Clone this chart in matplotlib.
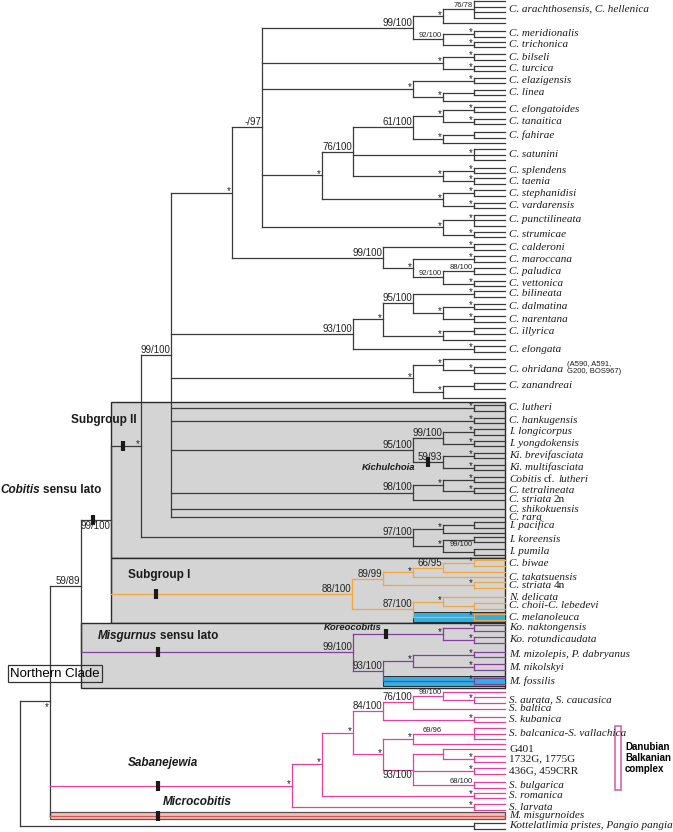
import matplotlib
matplotlib.use('Agg')
import matplotlib.pyplot as plt
from matplotlib.patches import Rectangle

plt.rcParams['font.family'] = ['Liberation Sans', 'DejaVu Sans']

TIP_X = 505     # right end of the terminal branches
FORK_X = 474    # depth of the small terminal forks
LABEL_X = 509
TIP_GAP = 5.5   # spacing of the tips inside a terminal fork

# internal nodes: (name, parent, depth, support)
base_nodes = [
    ('root', None, 20, ''),
    ('nc', 'root', 50, '*'),
    ('n5989', 'nc', 81, '59/89'),
    ('cobitis', 'n5989', 111, '99/100'),
    ('sub2', 'cobitis', 141, '*'),
]
europe_nodes = [
    ('B', 'sub2', 171, '99/100'), ('D', 'B', 232, '*'), ('E', 'D', 262, '-/97'),
    ('F', 'E', 413, '99/100'), ('G', 'F', 443, '*'), ('H', 'F', 443, '92/100'),
    ('bt', 'E', 443, '*'), ('el', 'E', 413, '*'), ('li', 'el', 443, '*'),
    ('I', 'E', 322, '*'), ('J', 'I', 353, '76/100'), ('K', 'J', 413, '61/100'),
    ('et', 'K', 443, '*'), ('fa', 'K', 443, '*'), ('st', 'J', 443, '*'),
    ('sv', 'I', 443, '*'), ('ps', 'E', 443, '*'),
    ('L', 'D', 383, '99/100'), ('M', 'L', 413, '*'), ('N', 'M', 443, '92/100'),
    ('O', 'B', 353, '93/100'), ('P', 'O', 383, '*'), ('Q', 'P', 413, '95/100'),
    ('dn', 'Q', 443, '*'), ('il', 'P', 443, '*'),
    ('R', 'B', 413, '*'), ('oh', 'R', 443, '*'), ('za', 'R', 443, '*'),
]
asia_nodes = [
    ('S', 'B', 413, '95/100'), ('T', 'S', 443, '99/100'), ('U', 'S', 443, '59/93'),
    ('V', 'B', 413, '98/100'), ('W', 'V', 443, '*'),
    ('X', 'sub2', 413, '97/100'), ('Y', 'X', 443, '*'), ('Z', 'X', 443, '*'),
]
sub1_nodes = [
    ('sub1', 'cobitis', 352, '88/100'), ('AA', 'sub1', 383, '89/99'),
    ('AC', 'AA', 413, '*'), ('n6695', 'AC', 443, '66/95'),
    ('AB', 'sub1', 413, '87/100'), ('AD', 'AB', 443, '*'),
]
misg_nodes = [
    ('misg', 'n5989', 353, '99/100'), ('kor', 'misg', 443, '*'),
    ('m93', 'misg', 383, '93/100'), ('mn', 'm93', 413, '*'),
]
saban_nodes = [
    ('sab', 'nc', 292, '*'), ('s2', 'sab', 322, '*'), ('s3', 's2', 353, '*'),
    ('s84', 's3', 383, '84/100'), ('s76', 's84', 413, '76/100'), ('s99', 's76', 443, '99/100'),
    ('s4', 's3', 383, '*'), ('s5', 's4', 413, '*'), ('s6996', 's5', 443, '69/96'),
    ('s93', 's4', 413, '93/100'), ('sg', 's93', 443, ''),
]

# terminal taxa: (label, parent, y, number of tips, support); '|' splits italic / roman parts
europe_taxa = [
    ('C. arachthosensis, C. hellenica', 'G', 9.25, 4, '76/78'), ('', 'G', 23, 1, ''),
    ('C. meridionalis', 'H', 34, 2, '*'), ('C. trichonica', 'H', 44.5, 2, '*'),
    ('C. bilseli', 'bt', 57, 2, '*'), ('C. turcica', 'bt', 68.5, 2, '*'),
    ('C. elazigensis', 'el', 80.5, 2, '*'), ('C. linea', 'li', 92.5, 2, ''), ('', 'li', 101, 1, ''),
    ('C. elongatoides', 'et', 109.5, 2, '*'), ('C. tanaitica', 'et', 121.5, 2, '*'),
    ('C. fahirae', 'fa', 135, 2, ''), ('', 'fa', 143, 1, ''),
    ('C. satunini', 'J', 154.5, 3, '*'),
    ('C. splendens', 'st', 170.5, 2, '*'), ('C. taenia', 'st', 181, 2, '*'),
    ('C. stephanidisi', 'sv', 193, 2, '*'), ('C. vardarensis', 'sv', 205.5, 2, '*'),
    ('C. punctilineata', 'ps', 220, 3, '*'), ('C. strumicae', 'ps', 234.5, 2, '*'),
    ('C. calderoni', 'L', 247, 2, '*'), ('C. maroccana', 'M', 259, 2, '*'),
    ('C. paludica', 'N', 271, 2, '88/100'), ('C. vettonica', 'N', 283.5, 2, '*'),
    ('C. bilineata', 'Q', 294, 2, '*'),
    ('C. dalmatina', 'dn', 306.5, 2, '*'), ('C. narentana', 'dn', 319, 2, '*'),
    ('C. illyrica', 'il', 331, 2, ''), ('', 'il', 340, 1, ''),
    ('C. elongata', 'O', 349, 2, '*'),
    ('', 'oh', 359, 1, ''), ('C. ohridana', 'oh', 370, 2, '*'),
    ('C. zanandreai', 'za', 386, 2, ''), ('', 'za', 398, 1, ''),
]
asia_taxa = [
    ('C. lutheri', 'B', 408, 2, '*'), ('C. hankugensis', 'B', 420.5, 2, '*'),
    ('I. longicorpus', 'T', 432, 2, '*'), ('I. yongdokensis', 'T', 443.5, 2, '*'),
    ('Ki. brevifasciata', 'U', 455.5, 2, '*'), ('Ki. multifasciata', 'U', 467.5, 2, '*'),
    ('Cobitis|cf.|lutheri', 'W', 479.5, 2, '*'), ('C. tetralineata', 'W', 490.5, 2, '*'),
    ('C. striata|2n', 'V', 500, 1, ''),
    ('C. shikokuensis', 'B', 509, 1, ''), ('C. rara', 'B', 517, 1, ''),
    ('I. pacifica', 'Y', 525, 2, ''), ('', 'Y', 533, 1, ''),
    ('I. koreensis', 'Z', 539.5, 2, '99/100'), ('I. pumila', 'Z', 552, 2, ''),
]
sub1_taxa = [
    ('C. biwae', 'n6695', 563, 2, '*'), ('', 'n6695', 572, 1, ''),
    ('C. takatsuensis', 'AC', 577, 1, ''),
    ('C. striata|4n', 'AA', 585, 2, '*'),
    ('N. delicata', 'AD', 597, 1, ''), ('C. choii-C. lebedevi', 'AD', 606, 2, ''),
    ('C. melanoleuca', 'AB', 617, 2, '*'),
]
misg_taxa = [
    ('Ko. naktongensis', 'kor', 628, 2, '*'), ('Ko. rotundicaudata', 'kor', 640, 2, '*'),
    ('M. mizolepis, P. dabryanus', 'mn', 654.5, 2, '*'), ('M. nikolskyi', 'mn', 667, 2, '*'),
    ('M. fossilis', 'm93', 681, 2, '*'),
]
saban_taxa = [
    ('', 's99', 692, 1, ''), ('S. aurata, S. caucasica', 's99', 700, 2, '*'),
    ('S. baltica', 's76', 708.5, 1, ''), ('S. kubanica', 's84', 719.5, 2, '*'),
    ('S. balcanica-S. vallachica', 's6996', 733.5, 3, ''), ('', 's5', 744, 1, ''),
    ('|G401', 'sg', 749, 1, ''), ('|1732G, 1775G', 'sg', 759, 2, '*'),
    ('|436G, 459CRR', 's93', 771, 2, '*'), ('S. bulgarica', 's93', 785, 2, '68/100'),
    ('S. romanica', 's2', 795.5, 2, '*'), ('S. larvata', 'sab', 807, 2, '*'),
]
outer_taxa = [
    ('M. misgurnoides', 'nc', 815.5, 1, ''),
    ('Kottelatlimia pristes, Pangio pangia', 'root', 826, 2, ''),
]

ohridana_note = '(A590, A591,\nG200, BOS967)'
small_support = ['76/78', 'H', 'N', 'C. paludica', 'I. koreensis', 's99', 's6996', 'S. bulgarica']
support_below = ['nc', 'cobitis', 's93', 'I. koreensis']
clade_colors = {'sub1': '#f0a742', 'misg': '#83409b', 'sab': '#e4419b'}
blue_bands = ['C. melanoleuca', 'M. fossilis']
# shaded boxes: first taxon, last taxon, node whose depth gives the left edge
gray_boxes = [('C. lutheri', 'I. pumila', 'cobitis'),
              ('C. biwae', 'C. melanoleuca', 'cobitis'),
              ('Ko. naktongensis', 'M. fossilis', 'n5989')]
# clade bars: node, depth on its stem
clade_bars = [('cobitis', 93), ('sub2', 123), ('sub1', 156), ('misg', 158),
              ('sab', 158), ('U', 428), ('kor', 386), ('M. misgurnoides', 158)]
group_labels = [
    ([('Subgroup II', 'b')], 137, 420, 'right', 8.5),
    ([('Cobitis', 'bi'), ('sensu lato', 'b')], 0, 490, 'left', 8.5),
    ([('Subgroup I', 'b')], 128, 575, 'left', 8.5),
    ([('Misgurnus', 'bi'), ('sensu lato', 'b')], 98, 636, 'left', 8.5),
    ([('Sabanejewia', 'bi')], 128, 763, 'left', 8.5),
    ([('Microcobitis', 'bi')], 163, 802, 'left', 8.5),
    ([('Kichulchoia', 'bi')], 415, 467, 'right', 6.8),
    ([('Koreocobitis', 'bi')], 382, 628, 'right', 6.8),
]

GRAY = '#3a3a3a'
LW = 0.9

fig = plt.figure(figsize=(6.73, 8.32), dpi=100)
ax = fig.add_axes([0, 0, 1, 1])
ax.set_xlim(0, 673)
ax.set_ylim(832, 0)
ax.axis('off')
renderer = fig.canvas.get_renderer()

# build the tree
nodes = {}
for group in (base_nodes, europe_nodes, asia_nodes, sub1_nodes, misg_nodes, saban_nodes):
    for name, parent, x, sup in group:
        nodes[name] = dict(x=x, parent=parent, sup=sup, kids=[], y=None, tips=[], label=None)
taxa = europe_taxa + asia_taxa + sub1_taxa + misg_taxa + saban_taxa + outer_taxa
for i, (label, parent, y, n, sup) in enumerate(taxa):
    key = label if label else 'tip%d' % i
    tips = [y + TIP_GAP * (k - (n - 1) / 2) for k in range(n)]
    nodes[key] = dict(x=FORK_X if n > 1 else TIP_X, parent=parent, sup=sup, kids=[],
                      y=y, tips=tips, label=label)
for key, nd in nodes.items():
    if nd['parent']:
        nodes[nd['parent']]['kids'].append(key)


def place(key):
    nd = nodes[key]
    if nd['y'] is None:
        ys = [place(k) for k in nd['kids']]
        nd['y'] = (min(ys) + max(ys)) / 2
    return nd['y']


place('root')


def color_of(key):
    while key:
        if key in clade_colors:
            return clade_colors[key]
        key = nodes[key]['parent']
    return GRAY


def tip_range(key):
    nd = nodes[key]
    if nd['tips']:
        return min(nd['tips']), max(nd['tips'])
    rs = [tip_range(k) for k in nd['kids']]
    return min(r[0] for r in rs), max(r[1] for r in rs)


# shaded boxes, neighbouring boxes share their edge
spans = [(tip_range(first), tip_range(last), nodes[left]['x']) for first, last, left in gray_boxes]
for i, (r1, r2, left) in enumerate(spans):
    top = r1[0] - 3.5 if i == 0 else (spans[i - 1][1][1] + r1[0]) / 2
    bottom = r2[1] + 4 if i == len(spans) - 1 else (r2[1] + spans[i + 1][0][0]) / 2
    ax.add_patch(Rectangle((left, top), TIP_X - left, bottom - top, fc='#d4d4d4',
                           ec='#2a2a2a', lw=1.0, zorder=0.5))

# blue highlight bands
for name in blue_bands:
    nd = nodes[name]
    px = nodes[nd['parent']]['x']
    ax.add_patch(Rectangle((px, nd['y'] - 5), TIP_X - px, 10, fc='#2eb0e4',
                           ec='#2a2a2a', lw=0.7, zorder=1))

# branches
for key, nd in nodes.items():
    c = color_of(key)
    if key == 'M. misgurnoides':
        px = nodes[nd['parent']]['x']
        ax.add_patch(Rectangle((px, nd['y'] - 3.5), TIP_X - px, 7, fc='#efc2ba',
                               ec='#555555', lw=0.9, zorder=1))
        ax.plot([px, TIP_X], [nd['y'], nd['y']], color='#d9534f', lw=0.9, zorder=2)
        continue
    if nd['parent']:
        px = nodes[nd['parent']]['x']
        ax.plot([px, nd['x']], [nd['y'], nd['y']], color=c, lw=LW, zorder=2)
    if nd['kids']:
        ys = [nodes[k]['y'] for k in nd['kids']]
        ax.plot([nd['x'], nd['x']], [min(ys), max(ys)], color=c, lw=LW, zorder=2)
    if len(nd['tips']) > 1:
        ax.plot([FORK_X, FORK_X], [min(nd['tips']), max(nd['tips'])], color=c, lw=LW, zorder=2)
        for t in nd['tips']:
            ax.plot([FORK_X, TIP_X], [t, t], color=c, lw=LW, zorder=2)

# support values
for key, nd in nodes.items():
    s = nd['sup']
    if not s:
        continue
    below = key in support_below
    fs = 5.5 if (key in small_support or s in small_support) else 7
    x, y = nd['x'] - 1, nd['y']
    if s == '*':
        if below:
            ax.text(x, y + 1, s, ha='right', va='top', fontsize=7, color='#222222', zorder=3)
        else:
            ax.text(x, y + 1.5, s, ha='right', va='baseline', fontsize=7, color='#222222', zorder=3)
    elif below:
        ax.text(x, y + 1, s, ha='right', va='top', fontsize=fs, color='#222222', zorder=3)
    else:
        ax.text(x, y - 2, s, ha='right', va='baseline', fontsize=fs, color='#222222', zorder=3)


def font_kw(style, size):
    if style == 'i':
        return dict(family='Liberation Serif', style='italic', fontsize=size)
    if style == 'r':
        return dict(family='Liberation Serif', fontsize=size)
    if style == 'b':
        return dict(fontweight='bold', fontsize=size)
    if style == 'bi':
        return dict(fontweight='bold', style='italic', fontsize=size)
    return dict(fontsize=size)


def draw_parts(x, y, parts, ha='left', size=8, gap=2.6):
    texts = [ax.text(0, y, s, va='center', color='#1a1a1a', zorder=4, **font_kw(st, size))
             for s, st in parts if s]
    widths = [t.get_window_extent(renderer).width for t in texts]
    total = sum(widths) + gap * (len(texts) - 1)
    pos = x if ha == 'left' else x - total
    for t, w in zip(texts, widths):
        t.set_x(pos)
        pos += w + gap
    return pos


# taxon labels
for key, nd in nodes.items():
    if not nd['label']:
        continue
    pieces = nd['label'].split('|')
    parts = [(p, 'i' if k % 2 == 0 else 'r') for k, p in enumerate(pieces)]
    end = draw_parts(LABEL_X, nd['y'], parts, size=8)
    if key == 'C. ohridana':
        ax.text(end + 1, nd['y'] - 2, ohridana_note, fontsize=5.5, va='center',
                linespacing=1.0, color='#1a1a1a')

# clade bars and group names
for key, bx in clade_bars:
    y = nodes[key]['y']
    ax.plot([bx, bx], [y - 5, y + 5], color='#1a1a1a', lw=3, solid_capstyle='butt', zorder=5)
for parts, x, y, ha, size in group_labels:
    draw_parts(x, y, parts, ha=ha, size=size, gap=3.2)

# Northern Clade label box
ny = nodes['nc']['y']
ax.text(55, ny - 27, 'Northern Clade', ha='center', va='center', fontsize=9.5, zorder=6,
        bbox=dict(boxstyle='square,pad=0.2', fc='none', ec='#333333', lw=0.9))

# Danubian Balkanian bracket
top, bottom = tip_range('s4')
ax.add_patch(Rectangle((615, top - 2), 6, bottom - top + 4, fill=False, ec='#e060a8', lw=1.2))
ax.text(625, (top + bottom) / 2, 'Danubian\nBalkanian\ncomplex', fontsize=7, fontweight='bold',
        va='center', ha='left', linespacing=1.1)

fig.savefig('out.png', dpi=100)
